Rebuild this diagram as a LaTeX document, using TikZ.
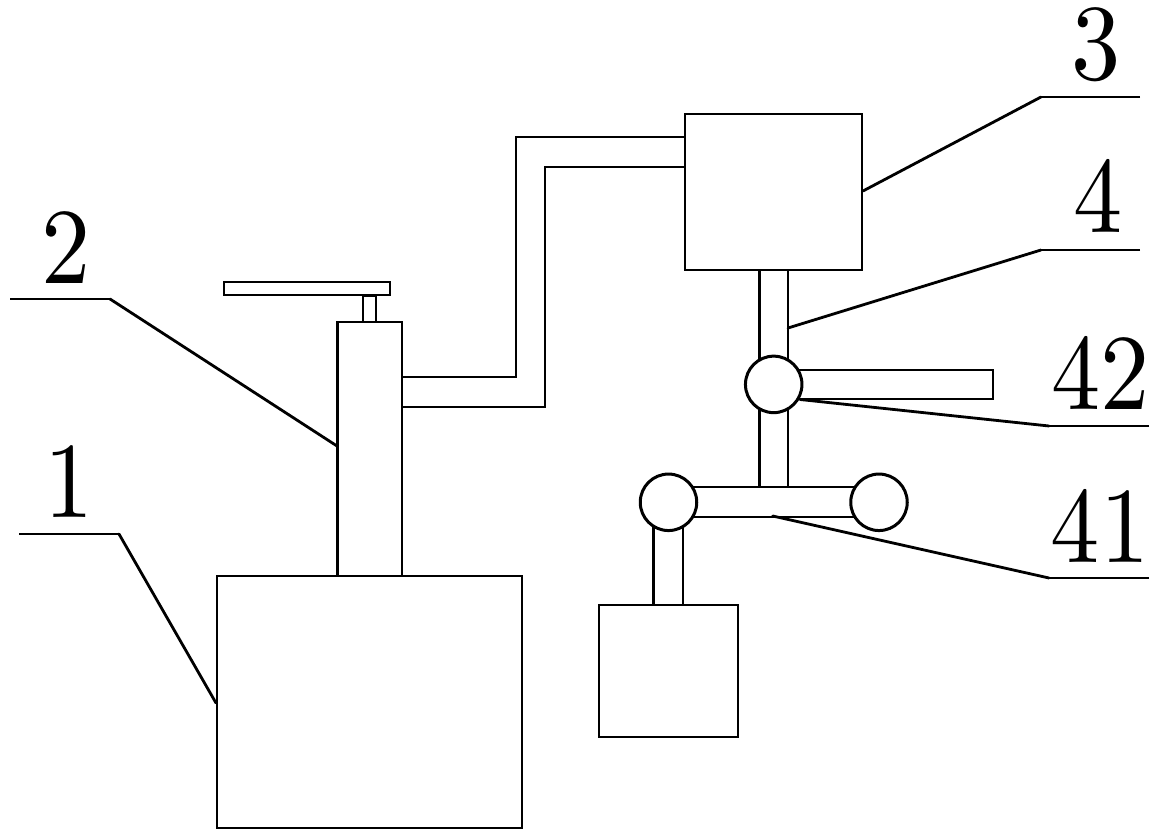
\documentclass[tikz,border=0pt]{standalone}
\font\numfont=cmr10 at 108pt
\tikzset{
  part/.style={draw=black,line width=2pt,fill=white,inner sep=0pt,minimum width=0pt},
  ball/.style={part,circle,line width=3pt,minimum size=56.5pt},
  ln/.style={draw=black,line width=2pt,line cap=butt,line join=miter},
  thick ln/.style={draw=black,line width=2.7pt,line cap=butt},
  lead/.style={draw=black,line width=2.8pt,line cap=round},
  num/.style={font=\numfont,inner sep=0pt,text=black,anchor=base,xscale=0.91,transform shape}
}
\begin{document}
\begin{tikzpicture}[x=1pt,y=-1pt]
\useasboundingbox (0,0) rectangle (1160,840);
% coordinates
\coordinate (l1a) at (19,534); \coordinate (l1b) at (119,534);
\coordinate (l2a) at (10,299); \coordinate (l2b) at (110,299);
\coordinate (l3a) at (1140,97); \coordinate (l3b) at (1041,97);
\coordinate (l4a) at (1140,250); \coordinate (l4b) at (1041,250);
\coordinate (l42a) at (1149,426); \coordinate (l42b) at (1049,426);
\coordinate (l41a) at (1149,578); \coordinate (l41b) at (1049,578);
% tank, pump, handle
\node[part,minimum width=305pt,minimum height=252pt] (tank) at (369.5,702) {};
\node[part,minimum width=64pt,minimum height=254pt] (pump) at (370,449) {};
\draw[thick ln] (pump.north west) -- (pump.south west);
\node[part,minimum width=13pt,minimum height=26pt] (stem) at (369.5,309) {};
\node[part,minimum width=166pt,minimum height=13pt] (handle) at (307,288.5) {};
% box 3
\node[part,minimum width=177pt,minimum height=156pt] (box3) at (773.5,192) {};
% pipes from pump to box 3
\draw[ln] (402,377) -- (515.5,377) -- (515.5,137) -- (685,137);
\draw[ln] (402,407) -- (545,407) -- (545,167) -- (685,167);
% vertical rod
\draw[thick ln] (759.7,270) -- (759.7,487);
\draw[ln] (788,270) -- (788,487);
% arm 42
\draw[ln] (795,370) -- (993,370) -- (993,399) -- (795,399);
% cross bar 41
\draw[ln] (690,487) -- (860,487);
\draw[ln] (690,517) -- (860,517);
% lower rod
\draw[thick ln] (653.7,525) -- (653.7,605);
\draw[ln] (683,525) -- (683,605);
% lower box
\node[part,minimum width=139pt,minimum height=132pt] (box5) at (668.5,671) {};
% joints
\node[ball] (j42) at (773.7,384.4) {};
\node[ball] (jl) at (668.5,502.3) {};
\node[ball] (jr) at (879,502.3) {};
% leaders
\draw[ln] (l1a) -- (l1b);
\draw[lead] (l1b) -- (tank.west |- 0,703);
\draw[ln] (l2a) -- (l2b);
\draw[lead] (l2b) -- (pump.west |- 0,446);
\draw[ln] (l3a) -- (l3b);
\draw[lead] (l3b) -- (box3.east |- 0,191);
\draw[ln] (l4a) -- (l4b);
\draw[lead] (l4b) -- (788,328);
\draw[ln] (l42a) -- (l42b);
\draw[lead] (l42b) -- (800,399.5);
\draw[ln] (l41a) -- (l41b);
\draw[lead] (l41b) -- (772.7,516);
% labels
\node[num] (n1) at (69.5,517) {1};
\node[num] (n2) at (66,283) {2};
\node[num] (n3) at (1096,80) {3};
\node[num] (n4) at (1098.5,233) {4};
\node[num] (n42) at (1100.5,409) {42};
\node[num] (n41) at (1100,562) {41};
\end{tikzpicture}
\end{document}
